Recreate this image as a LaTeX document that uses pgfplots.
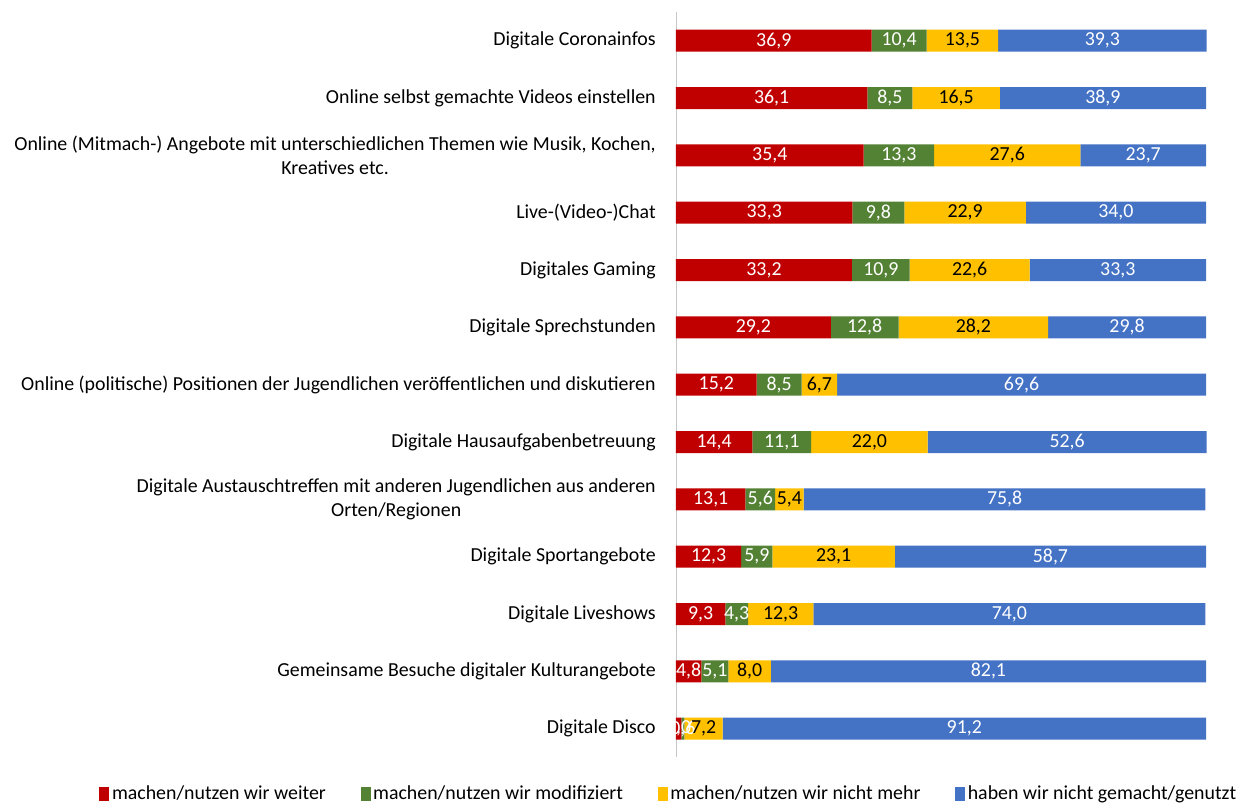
\documentclass[border=0pt]{standalone}
\usepackage{pgfplots}
\pgfplotsset{compat=1.18}
\usepackage{pgfplotstable}
\usepackage{fontspec}
\setmainfont{Carlito}
\definecolor{cred}{HTML}{C00000}
\definecolor{cgreen}{HTML}{548235}
\definecolor{cyellow}{HTML}{FFC000}
\definecolor{cblue}{HTML}{4472C4}
\pgfplotstableread{
idx a b c d
0 36.9 10.4 13.5 39.3
1 36.1 8.5 16.5 38.9
2 35.4 13.3 27.6 23.7
3 33.3 9.8 22.9 34.0
4 33.2 10.9 22.6 33.3
5 29.2 12.8 28.2 29.8
6 15.2 8.5 6.7 69.6
7 14.4 11.1 22.0 52.6
8 13.1 5.6 5.4 75.8
9 12.3 5.9 23.1 58.7
10 9.3 4.3 12.3 74.0
11 4.8 5.1 8.0 82.1
12 1.0 0.6 7.2 91.2
}\data
% label positions: middle of each stacked segment
\pgfplotstablecreatecol[expr={\thisrow{a}/2}]{ma}{\data}
\pgfplotstablecreatecol[expr={\thisrow{a}+\thisrow{b}/2}]{mb}{\data}
\pgfplotstablecreatecol[expr={\thisrow{a}+\thisrow{b}+\thisrow{c}/2}]{mc}{\data}
\pgfplotstablecreatecol[expr={\thisrow{a}+\thisrow{b}+\thisrow{c}+\thisrow{d}/2}]{md}{\data}
\pgfplotsset{
  common/.style={
    scale only axis,
    width=397.5pt, height=559pt,
    xmin=0, xmax=100,
    ymin=-0.5, ymax=12.5,
    y dir=reverse,
    clip=false,
  }
}
\begin{document}
\begin{tikzpicture}
\begin{axis}[
  common,
  name=ax,
  xbar stacked,
  bar width=16.5pt,
  axis x line=none,
  axis y line*=left,
  y axis line style={draw=gray!45, -},
  ytick={0,...,12},
  ytick style={draw=none},
  yticklabels={
    {Digitale Coronainfos},
    {Online selbst gemachte Videos einstellen},
    {Online (Mitmach-) Angebote mit unterschiedlichen Themen wie Musik, Kochen,\\Kreatives etc.},
    {Live-(Video-)Chat},
    {Digitales Gaming},
    {Digitale Sprechstunden},
    {Online (politische) Positionen der Jugendlichen veröffentlichen und diskutieren},
    {Digitale Hausaufgabenbetreuung},
    {Digitale Austauschtreffen mit anderen Jugendlichen aus anderen\\Orten/Regionen},
    {Digitale Sportangebote},
    {Digitale Liveshows},
    {Gemeinsame Besuche digitaler Kulturangebote},
    {Digitale Disco}},
  yticklabel style={font=\fontsize{14.9}{18}\selectfont, align=center, inner sep=0pt, xshift=-15pt},
  legend columns=4,
  legend style={draw=none, at={(-0.013,-0.049)}, anchor=center, font=\fontsize{14.9}{17}\selectfont,
    /tikz/every even column/.append style={column sep=24pt}},
  legend cell align=left,
  legend image code/.code={\fill[#1] (0pt,-5pt) rectangle (7.5pt,5pt);},
]
\addplot[fill=cred, draw=none] table[x=a, y=idx] {\data};
\addplot[fill=cgreen, draw=none] table[x=b, y=idx] {\data};
\addplot[fill=cyellow, draw=none] table[x=c, y=idx] {\data};
\addplot[fill=cblue, draw=none] table[x=d, y=idx] {\data};
\legend{machen/nutzen wir weiter, machen/nutzen wir modifiziert, machen/nutzen wir nicht mehr, haben wir nicht gemacht/genutzt}
\end{axis}
\begin{axis}[
  common,
  hide axis,
  point meta=explicit symbolic,
  nodes near coords={\pgfmathprintnumber[fixed, fixed zerofill, precision=1, use comma, assume math mode=true]{\pgfplotspointmeta}},
  every node near coord/.append style={font=\fontsize{14.9}{17}\selectfont, anchor=center, inner sep=0pt},
]
\addplot[draw=none, mark=none, every node near coord/.append style={text=white}] table[x=ma, y=idx, meta=a] {\data};
\addplot[draw=none, mark=none, every node near coord/.append style={text=white}] table[x=mb, y=idx, meta=b] {\data};
\addplot[draw=none, mark=none, every node near coord/.append style={text=black}] table[x=mc, y=idx, meta=c] {\data};
\addplot[draw=none, mark=none, every node near coord/.append style={text=white}] table[x=md, y=idx, meta=d] {\data};
\end{axis}
\pgfresetboundingbox
\path ([xshift=-507pt,yshift=-34.5pt]ax.south west) rectangle ([xshift=28.5pt,yshift=9pt]ax.north east);
\end{tikzpicture}
\end{document}
